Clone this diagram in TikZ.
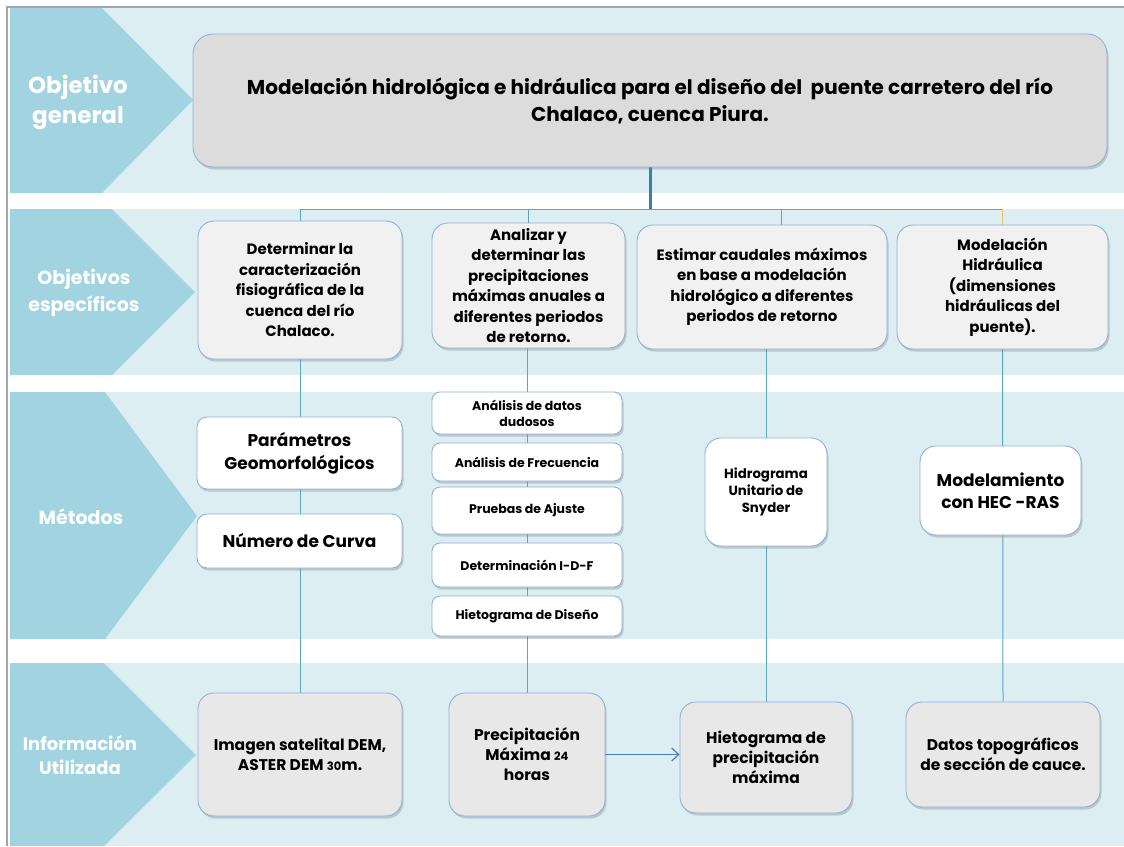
\documentclass[tikz,border=0pt]{standalone}
\usepackage{fontspec}
\setmainfont{Poppins}
\usepackage{tikz}
\usetikzlibrary{
	arrows.meta,
	positioning,
	calc,
	backgrounds,
	shadows
}

\definecolor{bandfill}{HTML}{DDEEF3}
\definecolor{chevfill}{HTML}{A1D3E0}
\definecolor{boxline}{HTML}{8EB1DA}
\definecolor{genfill}{HTML}{DCDCDC}
\definecolor{objfill}{HTML}{F1F1F1}
\definecolor{infofill}{HTML}{E8E8E8}
\definecolor{linkcol}{HTML}{58A8C2}
\definecolor{trunkcol}{HTML}{31859C}
\definecolor{arrowcol}{HTML}{4A7EBB}
\definecolor{goldline}{HTML}{F0C35A}
\definecolor{framegray}{HTML}{A5A5A5}

\begin{document}
\begin{tikzpicture}[x=1pt, y=-1pt,
		band/.style={fill=bandfill},
		chev/.style={fill=chevfill},
		rowlabel/.style={text=white, align=center, font=\bfseries\fontsize{18}{24}\selectfont},
		card/.style={draw=boxline, line width=0.9pt, rounded corners=16pt, align=center, inner sep=0pt,
			font=\bfseries\fontsize{15}{20.5}\selectfont,
			drop shadow={opacity=0.35, shadow xshift=1.5pt, shadow yshift=-2.5pt}},
		general/.style={card, fill=genfill, rounded corners=20pt, font=\bfseries\fontsize{20}{27}\selectfont},
		objective/.style={card, fill=objfill},
		method/.style={card, fill=white, rounded corners=10pt},
		smallmethod/.style={method, rounded corners=8pt, font=\bfseries\fontsize{12.5}{16}\selectfont},
		info/.style={card, fill=infofill, font=\bfseries\fontsize{15.5}{20}\selectfont},
		link/.style={draw=linkcol, line width=1pt},
		trunk/.style={draw=trunkcol, line width=3pt},
		goldlink/.style={draw=goldline, line width=1pt},
		flow/.style={-{Straight Barb[length=7pt, width=13pt]}, draw=arrowcol, line width=1.2pt}
		]
		
		% =========================
		% Bands and row labels
		% =========================
		\useasboundingbox (0,0) rectangle (1124,846);
		\begin{scope}[on background layer]
			\fill[band] (10,8) rectangle (1124,193);
			\fill[band] (10,209) rectangle (1124,375);
			\fill[band] (10,392) rectangle (1124,639);
			\fill[band] (10,663) rectangle (1124,846);
			\fill[chev] (10,8) -- (102,8) -- (193,100) -- (102,193) -- (10,193) -- cycle;
			\fill[chev] (10,209) -- (112,209) -- (195,292) -- (112,375) -- (10,375) -- cycle;
			\fill[chev] (10,392) -- (105,392) -- (197,516) -- (105,639) -- (10,639) -- cycle;
			\fill[chev] (10,663) -- (104,663) -- (196,755) -- (104,846) -- (10,846) -- cycle;
			\draw[framegray, line width=2pt] (7,846) -- (7,7) -- (1124,7);
		\end{scope}
		
		\node[rowlabel, font=\bfseries\fontsize{23}{30}\selectfont] (lblgeneral) at (78,102) {Objetivo\\general};
		\node[rowlabel, font=\bfseries\fontsize{19}{27}\selectfont] (lblspecific) at (84,293) {Objetivos\\específicos};
		\node[rowlabel, font=\bfseries\fontsize{19}{24}\selectfont] (lblmethods) at (81,517) {Métodos};
		\node[rowlabel] (lblinfo) at (80,755) {Información\\Utilizada};
		
		% =========================
		% Objetivo general
		% =========================
		\node[general, minimum width=914pt, minimum height=133pt] (gen) at (650,100.5) {
			Modelación hidrológica e hidráulica para el diseño del\ \ puente carretero del río\\
			Chalaco, cuenca Piura.
		};
		
		% =========================
		% Objetivos especificos
		% =========================
		\node[objective, minimum width=204pt, minimum height=138pt] (obj1) at (300,290) {
			Determinar la\\caracterización\\fisiográfica de la\\cuenca del río\\Chalaco.
		};
		\node[objective, minimum width=193pt, minimum height=125pt] (obj2) at (528.5,285.5) {
			Analizar y\\determinar las\\precipitaciones\\máximas anuales a\\diferentes periodos\\de retorno.
		};
		\node[objective, minimum width=250pt, minimum height=124pt] (obj3) at (762,287) {
			Estimar caudales máximos\\en base a modelación\\hidrológico a diferentes\\periodos de retorno
		};
		\node[objective, minimum width=211pt, minimum height=124pt] (obj4) at (1002.5,287) {
			Modelación\\Hidráulica\\(dimensiones\\hidráulicas del\\puente).
		};
		
		% =========================
		% Metodos
		% =========================
		\node[method, minimum width=205pt, minimum height=72pt, font=\bfseries\fontsize{17}{23}\selectfont] (geomorph) at (299.5,453) {Parámetros\\Geomorfológicos};
		\node[method, minimum width=205pt, minimum height=54pt, font=\bfseries\fontsize{17}{23}\selectfont] (curve) at (299.5,541) {Número de Curva};
		
		\node[smallmethod, minimum width=190pt, minimum height=42pt] (doubtful) at (527,413) {Análisis de datos\\dudosos};
		\node[smallmethod, minimum width=190pt, minimum height=38pt] (frequency) at (527,462) {Análisis de Frecuencia};
		\node[smallmethod, minimum width=190pt, minimum height=47pt] (fitting) at (527,510.5) {Pruebas de Ajuste};
		\node[smallmethod, minimum width=190pt, minimum height=44pt] (idf) at (527,565) {Determinación I-D-F};
		\node[smallmethod, minimum width=190pt, minimum height=40pt] (designhyet) at (527,616) {Hietograma de Diseño};
		
		\node[method, rounded corners=16pt, minimum width=122pt, minimum height=108pt, font=\bfseries\fontsize{13.3}{17}\selectfont] (snyder) at (766,492) {Hidrograma\\Unitario de\\Snyder};
		\node[method, rounded corners=16pt, minimum width=161pt, minimum height=89pt, font=\bfseries\fontsize{17}{22}\selectfont] (hecras) at (1000.5,490.5) {Modelamiento\\con HEC -RAS};
		
		% =========================
		% Informacion utilizada
		% =========================
		\node[info, minimum width=204pt, minimum height=123pt] (infoA) at (300,754.5) {Imagen satelital DEM,\\ASTER DEM {\fontsize{11.5}{13}\selectfont 30}m.};
		\node[info, minimum width=156pt, minimum height=123pt] (infoB) at (527,754.5) {Precipitación\\Máxima {\fontsize{11.5}{13}\selectfont 24}\\horas};
		\node[info, minimum width=172pt, minimum height=111pt] (infoC) at (766,757.5) {Hietograma de\\precipitación\\máxima};
		\node[info, minimum width=194pt, minimum height=105pt] (infoD) at (1003,754.5) {Datos topográficos\\de sección de cauce.};
		
		% =========================
		% Connectors
		% =========================
		\coordinate (bus) at (650,209);
		\begin{scope}[on background layer]
			\draw[trunk] (gen.south) -- (bus);
			\draw[link] (obj1.north) |- (obj4.north |- bus);
			\draw[link] (obj2.north) -- (obj2.north |- bus);
			\draw[link] ($(obj3.north)+(19,0)$) -- ($(obj3.north |- bus)+(19,0)$);
			\draw[goldlink] (obj4.north) -- (obj4.north |- bus);
			
			\draw[link] (obj1.south) -- (infoA.north);
			\draw[link] (obj2.south -| infoB.north) -- (infoB.north);
			\draw[link] (obj3.south -| infoC.north) -- (infoC.north);
			\draw[link] (obj4.south) -- (infoD.north);
		\end{scope}
		
		\draw[flow] (infoB.east) -- (infoB.east -| infoC.west);
		
	\end{tikzpicture}
\end{document}
